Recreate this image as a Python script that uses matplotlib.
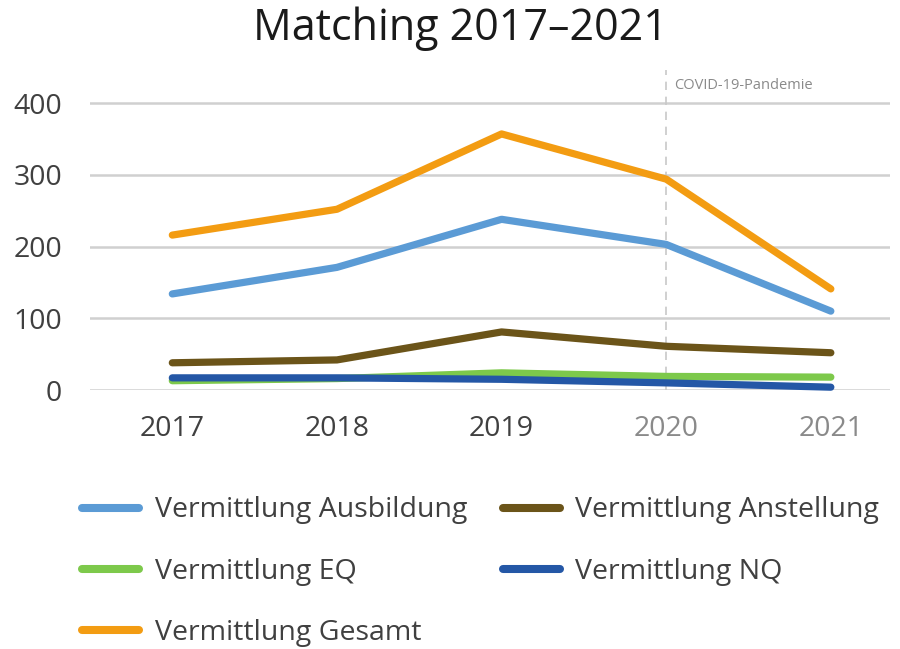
import matplotlib
matplotlib.use("Agg")
import matplotlib.pyplot as plt
from matplotlib.lines import Line2D

plt.rcParams['font.family'] = ['Open Sans', 'DejaVu Sans']

years = [2017, 2018, 2019, 2020, 2021]
year_labels = ["2017", "2018", "2019", "2020", "2021"]
ausbildung = [134, 171, 238, 203, 110]
anstellung = [38, 42, 81, 61, 52]
eq = [13, 16, 24, 19, 18]
nq = [17, 17, 15, 10, 4]
gesamt = [216, 252, 357, 294, 141]
yticks = [0, 100, 200, 300, 400]

series = [
    ("Vermittlung Ausbildung", ausbildung, "#5B9BD5"),
    ("Vermittlung Anstellung", anstellung, "#6B5419"),
    ("Vermittlung EQ", eq, "#7DC94B"),
    ("Vermittlung NQ", nq, "#2457A6"),
    ("Vermittlung Gesamt", gesamt, "#F39C12"),
]

fig = plt.figure(figsize=(9, 6.49), dpi=100)
ax = fig.add_axes([0.1, 0.399, 0.889, 0.493])

for label, vals, col in series:
    ax.plot(years, vals, color=col, lw=5.2, solid_capstyle='round',
            solid_joinstyle='round', clip_on=False, label=label, zorder=3)

ax.set_xlim(2016.5, 2021.36)
ax.set_ylim(0, 446)
ax.set_yticks(yticks)
ax.set_yticklabels([str(v) for v in yticks])
ax.set_xticks(years)
ax.set_xticklabels(year_labels)
ax.grid(axis='y', color='#D0D0D0', lw=1.8)
ax.set_axisbelow(True)
for s in ax.spines.values():
    s.set_visible(False)
ax.tick_params(axis='both', length=0, labelsize=20.5, colors='#404040')
ax.tick_params(axis='y', pad=20)
ax.tick_params(axis='x', pad=18)
for t in ax.get_xticklabels()[3:]:
    t.set_color('#8A8A8A')

ax.axvline(2020, color='#C8C8C8', lw=1.2, ls=(0, (5, 4)), zorder=1)
ax.text(2020.05, 425, "COVID-19-Pandemie", fontsize=10.5, color='#8A8A8A',
        va='center', ha='left')

fig.text(0.512, 0.955, "Matching 2017\u20132021", ha='center', va='center',
         fontsize=31, color='#1A1A1A')

handles = [Line2D([0], [0], color=c, lw=5.8, solid_capstyle='round') for _, _, c in series]
labels = [l for l, _, _ in series]
order = [0, 2, 4, 1, 3]
leg = fig.legend([handles[i] for i in order], [labels[i] for i in order],
                 loc='upper left', bbox_to_anchor=(0.091, 0.235), ncol=2,
                 frameon=False, fontsize=20.5, handlelength=2.0,
                 handletextpad=0.55, columnspacing=1.25, labelspacing=1.17,
                 borderaxespad=0, borderpad=0)
for t in leg.get_texts():
    t.set_color('#404040')

fig.savefig("out.png", dpi=100)
